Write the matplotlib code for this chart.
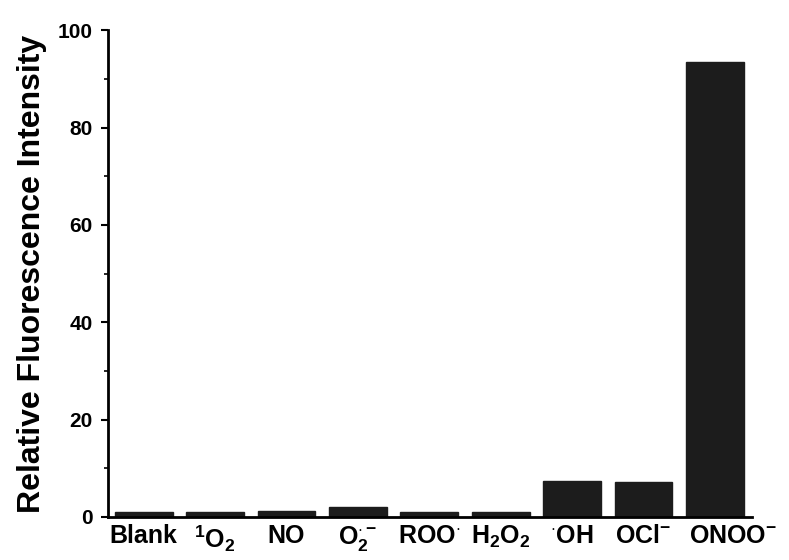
import numpy as np
import matplotlib.pyplot as plt
import matplotlib.transforms as mtransforms
from matplotlib.ticker import MultipleLocator

# analytes and relative fluorescence intensity
labels = ["Blank", r"$^{1}$O$_{2}$", "NO", r"O$_{2}^{\cdot-}$", r"ROO$^{\cdot}$",
          r"H$_{2}$O$_{2}$", r"$^{\cdot}$OH", r"OCl$^{-}$", r"ONOO$^{-}$"]
values = [1.0, 1.0, 1.2, 2.0, 1.1, 1.1, 7.4, 7.2, 93.4]

plt.rcParams['font.family'] = ['Liberation Sans', 'DejaVu Sans']
plt.rcParams['mathtext.fontset'] = 'custom'
plt.rcParams['mathtext.rm'] = 'Liberation Sans:bold'
plt.rcParams['mathtext.it'] = 'Liberation Sans:bold'
plt.rcParams['mathtext.bf'] = 'Liberation Sans:bold'

fig = plt.figure(figsize=(7.89, 5.60), dpi=100)
ax = fig.add_axes([0.137, 0.077, 0.816, 0.869])

x = np.arange(len(values))
ax.bar(x, values, width=0.81, color='#1c1c1c', edgecolor='#1c1c1c')

ax.set_xlim(-0.5, 8.52)
ax.set_ylim(0, 100)
ax.yaxis.set_major_locator(MultipleLocator(20))
ax.yaxis.set_minor_locator(MultipleLocator(10))
ax.set_xticks(x)
ax.set_xticklabels(labels, fontsize=18, fontweight='bold')
ax.tick_params(axis='x', length=0, pad=5)
ax.tick_params(axis='y', which='major', direction='out', length=5, width=1.5,
               labelsize=15, pad=6)
ax.tick_params(axis='y', which='minor', direction='out', length=3, width=1.2)
for t in ax.get_yticklabels():
    t.set_fontweight('bold')

# last label sits a little right of its bar in the original
last = ax.get_xticklabels()[-1]
last.set_transform(last.get_transform() +
                   mtransforms.ScaledTranslation(0.18, 0, fig.dpi_scale_trans))

ax.spines['top'].set_visible(False)
ax.spines['right'].set_visible(False)
ax.spines['left'].set_linewidth(2)
ax.spines['bottom'].set_linewidth(2)

ax.set_ylabel("Relative Fluorescence Intensity", fontsize=23, fontweight='bold', labelpad=8)

fig.savefig("out.png", dpi=100)
